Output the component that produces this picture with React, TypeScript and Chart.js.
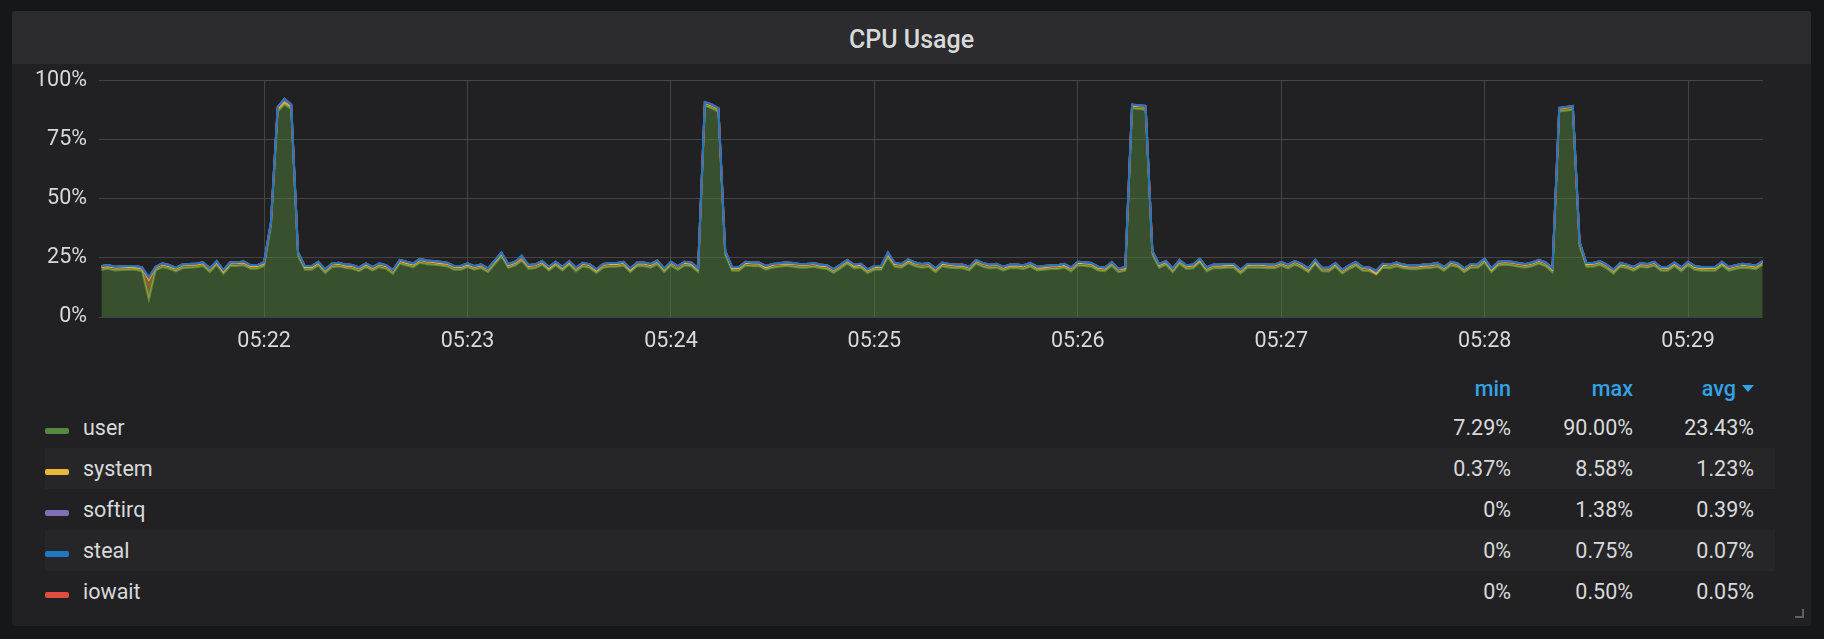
import React, { useEffect, useRef } from 'react';
import { Chart, registerables } from 'chart.js';

Chart.register(...registerables);

// ---------- data ----------
// samples every 2 s, first sample at 05:21:12 (seconds counted from 05:21:00)
const START_SECOND = 12;
const STEP_SECONDS = 2;
const X_MIN = 11.3;
const X_MAX = 502.1;

const X_TICK_VALUES = [60, 120, 180, 240, 300, 360, 420, 480];
const X_TICK_LABELS = ['05:22', '05:23', '05:24', '05:25', '05:26', '05:27', '05:28', '05:29'];
const Y_TICK_VALUES = [0, 25, 50, 75, 100];
const Y_TICK_LABELS = ['0%', '25%', '50%', '75%', '100%'];

const USER = [
  20.0, 20.4, 19.7, 19.9, 20.0, 20.0, 19.4, 7.29, 19.7, 21.1,
  20.4, 19.3, 20.7, 20.9, 21.1, 21.6, 19.0, 22.1, 18.3, 21.6,
  21.6, 21.9, 20.4, 20.4, 21.6, 38.4, 87.0, 90.0, 88.0, 25.9,
  20.0, 20.0, 21.8, 18.6, 21.1, 21.4, 20.7, 20.4, 19.4, 21.1,
  19.7, 21.1, 20.4, 18.3, 22.6, 21.8, 21.1, 23.0, 22.3, 22.1,
  21.8, 21.4, 20.0, 20.0, 21.1, 20.0, 20.7, 19.0, 22.3, 25.7,
  20.8, 21.8, 23.8, 20.4, 20.7, 22.1, 19.7, 21.8, 19.7, 22.1,
  19.3, 21.4, 20.8, 18.6, 20.9, 21.3, 21.3, 21.8, 19.0, 21.5,
  21.5, 20.9, 22.3, 19.0, 21.8, 20.0, 21.8, 21.5, 19.0, 89.4,
  88.4, 86.9, 26.4, 19.6, 19.6, 21.8, 21.5, 21.5, 20.0, 20.9,
  21.3, 21.6, 21.3, 20.9, 20.9, 21.3, 20.6, 20.3, 18.7, 20.6,
  22.6, 20.6, 20.9, 18.6, 20.0, 20.0, 25.3, 21.3, 20.9, 22.8,
  21.5, 20.9, 21.3, 19.0, 21.5, 20.9, 20.6, 20.6, 19.7, 22.6,
  21.3, 20.6, 20.9, 19.7, 20.6, 20.6, 20.3, 21.3, 19.7, 20.0,
  20.3, 20.3, 20.9, 19.4, 21.8, 21.6, 21.3, 19.7, 19.4, 21.7,
  19.0, 19.6, 88.4, 88.1, 87.8, 26.4, 20.9, 22.1, 19.0, 22.6,
  20.3, 20.6, 23.1, 19.4, 20.6, 20.6, 20.9, 20.9, 18.4, 20.9,
  20.9, 20.9, 20.6, 20.6, 21.7, 20.6, 22.1, 20.9, 19.0, 22.6,
  19.4, 19.3, 21.3, 18.4, 20.3, 21.7, 19.6, 19.4, 18.0, 20.9,
  20.6, 21.5, 20.6, 20.2, 20.2, 20.6, 20.7, 21.3, 19.6, 21.8,
  21.3, 19.0, 20.9, 20.9, 23.1, 19.0, 21.8, 22.1, 21.8, 21.3,
  20.9, 21.5, 22.6, 21.5, 19.0, 87.0, 87.4, 87.8, 30.2, 21.3,
  21.3, 22.1, 20.6, 18.4, 21.3, 20.6, 19.6, 21.3, 20.9, 21.8,
  19.6, 19.6, 21.5, 19.4, 21.8, 20.0, 19.6, 19.6, 19.6, 21.8,
  19.6, 20.3, 20.9, 20.6, 20.2, 22.1,
];

const SYSTEM = [
  1.2, 1.1, 1.3, 1.2, 1.2, 1.0, 1.2, 8.58, 1.3, 1.2,
  1.1, 1.2, 1.3, 1.2, 1.1, 1.2, 1.4, 1.2, 1.0, 1.2,
  1.3, 1.2, 1.1, 1.2, 1.2, 1.3, 1.2, 1.0, 1.2, 1.4,
  1.2, 1.1, 1.2, 1.3, 1.2, 1.2, 1.0, 1.2, 1.3, 1.2,
  1.1, 1.2, 1.2, 1.4, 1.2, 1.1, 1.2, 1.3, 1.2, 1.2,
  1.0, 1.2, 1.3, 1.2, 1.1, 1.2, 1.2, 1.4, 1.2, 1.3,
  1.2, 1.1, 1.2, 1.2, 1.3, 1.2, 1.0, 1.2, 1.2, 1.1,
  1.3, 1.2, 1.2, 1.1, 1.2, 1.3, 1.2, 1.2, 1.0, 1.2,
  1.2, 1.1, 1.3, 1.2, 1.2, 1.4, 1.2, 1.1, 1.2, 1.3,
  1.2, 1.2, 1.4, 1.1, 1.2, 1.2, 1.3, 1.2, 1.0, 1.2,
  1.2, 1.1, 1.3, 1.2, 1.2, 1.2, 1.1, 1.2, 1.3, 1.2,
  1.2, 1.0, 1.2, 1.2, 1.1, 1.3, 1.2, 1.2, 1.2, 1.1,
  1.2, 1.3, 1.2, 1.2, 1.0, 1.2, 1.2, 1.1, 1.3, 1.2,
  1.2, 1.2, 1.4, 1.2, 1.1, 1.2, 1.2, 1.3, 1.2, 1.0,
  1.2, 1.2, 1.1, 1.3, 1.2, 1.2, 1.2, 1.1, 1.2, 1.3,
  1.2, 1.0, 1.2, 1.3, 1.4, 1.2, 1.1, 1.2, 1.2, 1.3,
  1.2, 1.2, 1.1, 1.2, 1.3, 1.2, 1.0, 1.2, 1.2, 1.1,
  1.3, 1.2, 1.2, 1.2, 1.1, 1.2, 1.3, 1.2, 1.2, 1.0,
  1.2, 1.2, 1.1, 1.3, 1.2, 1.2, 1.2, 1.1, 0.37, 1.2,
  1.3, 1.2, 1.0, 1.2, 1.2, 1.1, 1.2, 1.3, 1.2, 1.2,
  1.1, 1.2, 1.2, 1.4, 1.2, 1.0, 1.2, 1.2, 1.3, 1.2,
  1.1, 1.2, 1.2, 1.3, 1.2, 1.2, 1.3, 1.4, 1.2, 1.1,
  1.2, 1.2, 1.3, 1.2, 1.0, 1.2, 1.2, 1.1, 1.2, 1.3,
  1.2, 1.2, 1.1, 1.2, 1.3, 1.2, 1.0, 1.2, 1.2, 1.1,
  1.2, 1.3, 1.2, 1.2, 1.1, 1.2,
];

const SOFTIRQ = [
  0.4, 0.5, 0.3, 0.4, 0.4, 0.6, 0.4, 0.6, 0.3, 0.4,
  0.5, 0.4, 0.3, 0.4, 0.5, 0.4, 0.2, 0.4, 0.6, 0.4,
  0.3, 0.4, 0.5, 0.4, 0.4, 0.3, 0.8, 1.38, 0.8, 0.2,
  0.4, 0.5, 0.4, 0.3, 0.4, 0.4, 0.6, 0.4, 0.3, 0.4,
  0.3, 0.4, 0.4, 0.2, 0.4, 0.5, 0.4, 0.3, 0.4, 0.4,
  0.6, 0.4, 0.3, 0.4, 0.5, 0.2, 0.4, 0.2, 0.4, 0.3,
  0.4, 0.5, 0.35, 0.4, 0.3, 0.4, 0.6, 0.4, 0.4, 0.5,
  0.3, 0.4, 0.4, 0.5, 0.4, 0.3, 0.4, 0.4, 0.6, 0.4,
  0.4, 0.5, 0.3, 0.4, 0.4, 0.2, 0.4, 0.5, 0.4, 0.3,
  0.4, 0.4, 0.2, 0.5, 0.4, 0.4, 0.3, 0.4, 0.6, 0.4,
  0.2, 0.5, 0.3, 0.4, 0.4, 0.4, 0.5, 0.4, 0.3, 0.4,
  0.4, 0.6, 0.4, 0.4, 0.5, 0.3, 0.4, 0.4, 0.4, 0.5,
  0.4, 0.3, 0.4, 0.4, 0.6, 0.4, 0.4, 0.5, 0.3, 0.4,
  0.2, 0.4, 0.2, 0.4, 0.5, 0.4, 0.4, 0.3, 0.4, 0.6,
  0.4, 0.4, 0.5, 0.3, 0.4, 0.4, 0.4, 0.5, 0.4, 0.3,
  0.2, 0.6, 0.4, 0.3, 0.2, 0.4, 0.5, 0.4, 0.4, 0.3,
  0.4, 0.4, 0.5, 0.4, 0.3, 0.4, 0.6, 0.4, 0.4, 0.5,
  0.3, 0.4, 0.4, 0.4, 0.5, 0.4, 0.3, 0.4, 0.4, 0.6,
  0.4, 0.4, 0.5, 0.3, 0.4, 0.4, 0.4, 0.5, 1.23, 0.4,
  0.3, 0.4, 0.6, 0.4, 0.4, 0.5, 0.4, 0.3, 0.4, 0.4,
  0.3, 0.4, 0.4, 0.2, 0.4, 0.6, 0.4, 0.4, 0.3, 0.4,
  0.5, 0.4, 0.4, 0.3, 0.4, 0.4, 0.3, 0.2, 0.4, 0.5,
  0.4, 0.4, 0.3, 0.4, 0.6, 0.4, 0.4, 0.5, 0.4, 0.3,
  0.2, 0.4, 0.5, 0.4, 0.3, 0.4, 0.6, 0.4, 0.4, 0.5,
  0.4, 0.3, 0.4, 0.4, 0.5, 0.4,
];

const STEAL = [
  0, 0, 0, 0, 0, 0, 0, 0.3, 0, 0,
  0, 0, 0, 0, 0, 0, 0, 0, 0, 0,
  0, 0, 0, 0, 0, 0, 0, 0, 0, 0,
  0, 0, 0, 0, 0, 0, 0, 0, 0, 0,
  0.2, 0, 0, 0, 0, 0, 0, 0, 0, 0,
  0, 0, 0, 0, 0, 0, 0, 0, 0, 0,
  0, 0, 0.75, 0, 0, 0, 0, 0, 0, 0,
  0, 0, 0, 0, 0, 0, 0, 0, 0, 0,
  0, 0, 0, 0, 0, 0, 0, 0, 0, 0,
  0, 0, 0, 0, 0, 0, 0, 0, 0, 0,
  0.2, 0, 0, 0, 0, 0, 0, 0, 0, 0,
  0, 0, 0, 0, 0, 0, 0, 0, 0, 0,
  0, 0, 0, 0, 0, 0, 0, 0, 0, 0,
  0, 0, 0, 0, 0, 0, 0, 0, 0, 0,
  0, 0, 0, 0, 0, 0, 0, 0, 0, 0,
  0.2, 0, 0, 0, 0, 0, 0, 0, 0, 0,
  0, 0, 0, 0, 0, 0, 0, 0, 0, 0,
  0, 0, 0, 0, 0, 0, 0, 0, 0, 0,
  0, 0, 0, 0, 0, 0, 0, 0, 0, 0,
  0, 0, 0, 0, 0, 0, 0, 0, 0, 0,
  0.2, 0, 0, 0, 0, 0, 0, 0, 0, 0,
  0, 0, 0, 0, 0, 0, 0, 0, 0, 0,
  0, 0, 0, 0, 0, 0, 0, 0, 0, 0,
  0, 0, 0, 0, 0, 0, 0, 0, 0, 0,
  0, 0, 0, 0, 0, 0,
];

const IOWAIT = [
  0, 0, 0, 0, 0, 0, 0, 0.23, 0, 0,
  0, 0, 0, 0, 0, 0, 0, 0, 0, 0,
  0, 0, 0, 0, 0, 0, 0, 0, 0, 0,
  0, 0, 0, 0, 0, 0, 0, 0, 0, 0,
  0, 0, 0, 0, 0, 0, 0, 0, 0, 0,
  0, 0, 0, 0, 0, 0.2, 0, 0, 0, 0,
  0, 0, 0, 0, 0, 0, 0, 0, 0, 0,
  0, 0, 0, 0, 0, 0, 0, 0, 0, 0,
  0, 0, 0, 0, 0, 0, 0, 0, 0, 0,
  0, 0, 0, 0, 0, 0, 0, 0, 0, 0,
  0, 0, 0, 0, 0, 0, 0, 0, 0, 0,
  0, 0, 0, 0, 0, 0, 0.5, 0, 0, 0,
  0, 0, 0, 0, 0, 0, 0, 0, 0, 0,
  0.2, 0, 0, 0, 0, 0, 0, 0, 0, 0,
  0, 0, 0, 0, 0, 0, 0, 0, 0, 0,
  0, 0, 0, 0, 0, 0, 0, 0, 0, 0,
  0, 0, 0, 0, 0, 0, 0, 0, 0, 0,
  0, 0, 0, 0, 0, 0, 0, 0, 0, 0,
  0, 0, 0, 0, 0, 0, 0, 0, 0, 0,
  0, 0, 0, 0, 0, 0, 0, 0, 0, 0,
  0, 0, 0, 0, 0, 0, 0, 0, 0, 0,
  0, 0, 0, 0, 0, 0, 0, 0, 0, 0,
  0, 0, 0, 0, 0, 0, 0, 0, 0, 0,
  0.2, 0, 0, 0, 0, 0, 0, 0, 0, 0,
  0, 0, 0, 0, 0, 0,
];

// legend table (as shown, sorted by avg)
const LEGEND_NAMES = ['user', 'system', 'softirq', 'steal', 'iowait'];
const LEGEND_MIN = ['7.29%', '0.37%', '0%', '0%', '0%'];
const LEGEND_MAX = ['90.00%', '8.58%', '1.38%', '0.75%', '0.50%'];
const LEGEND_AVG = ['23.43%', '1.23%', '0.39%', '0.07%', '0.05%'];

// ---------- styles ----------
const FONT = 'Roboto, "Helvetica Neue", Arial, sans-serif';
const TEXT = '#d8d9da';
const GRID = '#444447';
const BLUE_HEAD = '#33a2e5';
const COLORS: Record<string, string> = {
  user: '#56893f',
  system: '#eab839',
  softirq: '#806eb7',
  steal: '#1f78c1',
  iowait: '#e24d42',
};

function rgba(hex: string, a: number) {
  const n = parseInt(hex.slice(1), 16);
  return `rgba(${(n >> 16) & 255},${(n >> 8) & 255},${n & 255},${a})`;
}

// stacking order (bottom to top); steal line ends up on top like the reference
const STACK: { key: string; values: number[] }[] = [
  { key: 'user', values: USER },
  { key: 'system', values: SYSTEM },
  { key: 'softirq', values: SOFTIRQ },
  { key: 'iowait', values: IOWAIT },
  { key: 'steal', values: STEAL },
];

function CpuChart() {
  const ref = useRef<HTMLCanvasElement | null>(null);
  useEffect(() => {
    if (!ref.current) return;
    let running = USER.map(() => 0);
    const datasets = STACK.map((s, k) => {
      running = running.map((r, i) => r + s.values[i]);
      const data = running.map((y, i) => ({ x: START_SECOND + i * STEP_SECONDS, y }));
      return {
        label: s.key,
        data,
        borderColor: COLORS[s.key],
        backgroundColor: rgba(COLORS[s.key], 0.45),
        borderWidth: 2,
        pointRadius: 0,
        tension: 0,
        fill: k === 0 ? 'origin' : '-1',
        order: STACK.length - k,
      };
    });
    const chart = new Chart(ref.current, {
      type: 'line',
      data: { datasets: datasets as any },
      options: {
        animation: false,
        responsive: false,
        events: [],
        layout: { padding: { left: 0, right: 48, top: 0, bottom: 0 } },
        plugins: { legend: { display: false }, tooltip: { enabled: false } },
        scales: {
          x: {
            type: 'linear',
            min: X_MIN,
            max: X_MAX,
            afterBuildTicks: (scale: any) => {
              scale.ticks = X_TICK_VALUES.map((v) => ({ value: v }));
            },
            afterFit: (scale: any) => {
              scale.height = 47;
            },
            ticks: {
              callback: (_v: any, i: number) => X_TICK_LABELS[i],
              color: TEXT,
              font: { family: FONT, size: 21.5 },
              padding: 12,
              maxRotation: 0,
              autoSkip: false,
            },
            grid: { color: GRID, drawTicks: false, lineWidth: 1 },
            border: { display: false },
          },
          y: {
            type: 'linear',
            min: 0,
            max: 100,
            afterBuildTicks: (scale: any) => {
              scale.ticks = Y_TICK_VALUES.map((v) => ({ value: v }));
            },
            afterFit: (scale: any) => {
              scale.width = 87;
            },
            ticks: {
              callback: (_v: any, i: number) => Y_TICK_LABELS[i],
              color: TEXT,
              font: { family: FONT, size: 21.5 },
              padding: 12,
              autoSkip: false,
            },
            grid: { color: GRID, drawTicks: false, lineWidth: 1 },
            border: { display: false },
          },
        },
      } as any,
    });
    return () => chart.destroy();
  }, []);
  return (
    <canvas
      ref={ref}
      width={1799}
      height={308}
      style={{ position: 'absolute', left: 0, top: 45, width: 1799, height: 308, display: 'block' }}
    />
  );
}

export default function App() {
  const cell = (right: number, text: React.ReactNode, color: string, weight = 400) => (
    <div
      style={{
        position: 'absolute',
        right,
        top: 0,
        height: '100%',
        display: 'flex',
        alignItems: 'center',
        color,
        fontWeight: weight,
        whiteSpace: 'nowrap',
      }}
    >
      {text}
    </div>
  );
  return (
    <div
      style={{
        position: 'fixed',
        left: 0,
        top: 0,
        width: 1824,
        height: 639,
        background: '#161719',
        overflow: 'hidden',
        fontFamily: FONT,
      }}
    >
      <div
        style={{
          position: 'absolute',
          left: 12,
          top: 11,
          width: 1799,
          height: 615,
          background: '#212124',
          borderRadius: 3,
          overflow: 'hidden',
        }}
      >
        <div
          style={{
            position: 'absolute',
            left: 0,
            top: 0,
            width: '100%',
            height: 53,
            background: '#2c2c2e',
            color: TEXT,
            fontSize: 25,
            fontWeight: 500,
            textAlign: 'center',
            lineHeight: '57px',
          }}
        >
          CPU Usage
        </div>
        <CpuChart />
        {/* legend header */}
        <div style={{ position: 'absolute', left: 33, top: 364, width: 1730, height: 26, fontSize: 21.5 }}>
          {cell(264, 'min', BLUE_HEAD, 500)}
          {cell(142, 'max', BLUE_HEAD, 500)}
          {cell(
            21,
            <>
              <span>avg</span>
              <span
                style={{
                  display: 'inline-block',
                  marginLeft: 6,
                  width: 0,
                  height: 0,
                  borderLeft: '6px solid transparent',
                  borderRight: '6px solid transparent',
                  borderTop: '7px solid ' + BLUE_HEAD,
                }}
              />
            </>,
            BLUE_HEAD,
            500,
          )}
        </div>
        {LEGEND_NAMES.map((name, k) => (
          <div
            key={name}
            style={{
              position: 'absolute',
              left: 33,
              top: 396 + k * 41,
              width: 1730,
              height: 41,
              background: k % 2 === 1 ? '#262628' : 'transparent',
              fontSize: 21.5,
              color: TEXT,
            }}
          >
            <div
              style={{
                position: 'absolute',
                left: 0,
                top: 21,
                width: 24,
                height: 6,
                borderRadius: 2,
                background: COLORS[name],
              }}
            />
            <div style={{ position: 'absolute', left: 38, top: 0, height: '100%', display: 'flex', alignItems: 'center' }}>
              {name}
            </div>
            {cell(264, LEGEND_MIN[k], TEXT)}
            {cell(142, LEGEND_MAX[k], TEXT)}
            {cell(21, LEGEND_AVG[k], TEXT)}
          </div>
        ))}
        {/* resize handle */}
        <div
          style={{
            position: 'absolute',
            left: 1783,
            top: 598,
            width: 7,
            height: 7,
            borderRight: '2px solid #5f5f5f',
            borderBottom: '2px solid #5f5f5f',
          }}
        />
      </div>
    </div>
  );
}
